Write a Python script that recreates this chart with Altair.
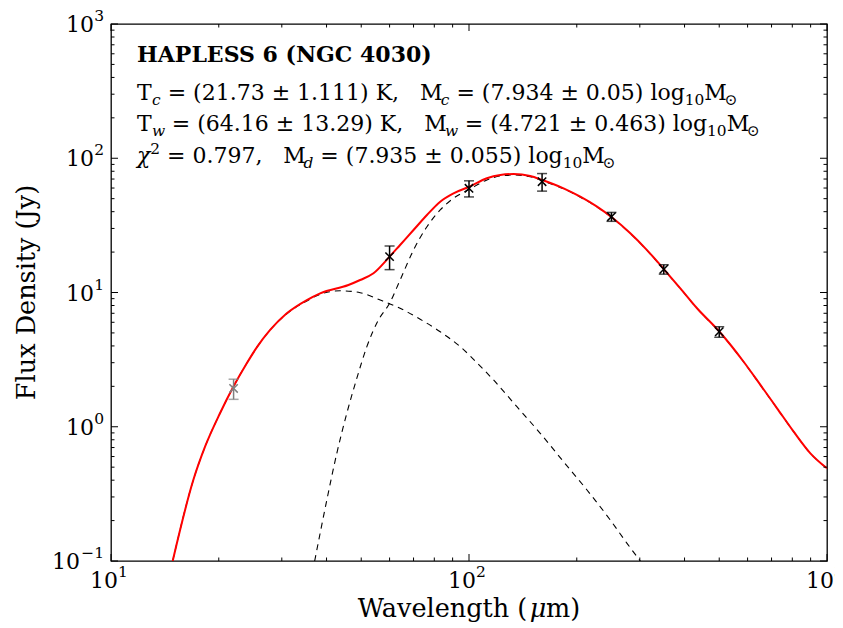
import altair as alt
import pandas as pd

FONT = "DejaVu Serif"
W, H = 716, 537

# ---------------- data ----------------
obs_wavelength = [22, 60, 100, 160, 250, 350, 500]
obs_flux = [1.93, 18.5, 59.7, 66.9, 36.7, 14.9, 5.1]
obs_error = [0.33, 3.7, 8.2, 10.0, 2.8, 1.2, 0.46]
obs_group = ["excluded", "fitted", "fitted", "fitted", "fitted", "fitted", "fitted"]

total_wavelength = [14.87, 16.98, 18.31, 20.16, 22.0, 23.95, 25.54, 27.83, 30.98, 35.24,
                    38.4, 46.04, 49.65, 54.1, 60.0, 64.2, 69.98, 76.3, 83.1, 90.5,
                    100.3, 112.2, 122.3, 133.2, 148.3, 160.2, 183.7, 204.6, 227.8, 250.5,
                    282.2, 314.2, 350.5, 389.3, 433.5, 501, 585, 651.6, 725.4, 807,
                    898.6, 1000]
total_flux = [0.1, 0.401, 0.71, 1.26, 2.0, 2.97, 3.9, 5.26, 7.0, 8.79,
              9.86, 11.37, 12.39, 13.9, 18.48, 22.6, 29.2, 37.8, 47.5, 54.8,
              61.4, 70.9, 75.0, 76.3, 73.8, 68.9, 59.7, 51.7, 43.6, 36.3,
              27.6, 20.7, 14.89, 10.75, 7.63, 5.1, 3.05, 2.05, 1.372, 0.919,
              0.634, 0.49]

warm_wavelength = [14.87, 16.98, 18.31, 20.16, 22.0, 23.95, 25.54, 27.83, 30.98, 35.24,
                   38.4, 43.65, 49.65, 56.5, 64.2, 73.06, 83.1, 94.5, 107.5, 117.1,
                   136.1, 158.1, 183.7, 213.6, 248.1, 276.3, 301]
warm_flux = [0.1, 0.401, 0.71, 1.26, 2.0, 2.97, 3.9, 5.25, 6.95, 8.65,
             9.7, 10.3, 9.97, 8.79, 7.63, 6.32, 5.1, 3.95, 2.83, 2.23,
             1.41, 0.894, 0.549, 0.338, 0.202, 0.1354, 0.1]

cold_wavelength = [37.06, 40.08, 42.73, 45.57, 48.61, 51.84, 55.85, 60.0, 64.2, 69.98,
                   76.3, 83.1, 90.5, 100.3, 112.2, 122.3, 133.2, 148.3, 160.2, 183.7,
                   204.6, 227.8, 250.5, 282.2, 314.2, 350.5, 389.3, 433.5, 501, 585,
                   651.6, 725.4, 807, 898.6, 1000]
cold_flux = [0.1, 0.285, 0.634, 1.26, 2.30, 3.95, 6.24, 8.31, 12.39, 20.7,
             30.9, 41.2, 50.3, 58.7, 68.9, 73.8, 75.0, 72.8, 68.0, 59.2,
             51.3, 43.3, 36.1, 27.5, 20.6, 14.8, 10.7, 7.6, 5.08, 3.04,
             2.04, 1.37, 0.918, 0.633, 0.49]

x_major = [10, 100, 1000]
x_major_exp = ["1", "2", "3"]
x_minor = [20, 30, 40, 50, 60, 70, 80, 90, 200, 300, 400, 500, 600, 700, 800, 900]
y_major = [0.1, 1, 10, 100, 1000]
y_major_exp = ["\u22121", "0", "1", "2", "3"]
y_minor = [0.2, 0.3, 0.4, 0.5, 0.6, 0.7, 0.8, 0.9, 2, 3, 4, 5, 6, 7, 8, 9,
           20, 30, 40, 50, 60, 70, 80, 90, 200, 300, 400, 500, 600, 700, 800, 900]

title_text = "HAPLESS 6 (NGC 4030)"
x_title = "Wavelength ("
y_title = "Flux Density (Jy)"

# ---------------- scales ----------------
xs = alt.Scale(type="log", domain=[10, 1000], nice=False)
ys = alt.Scale(type="log", domain=[0.1, 1000], nice=False)
one = pd.DataFrame({"a": [0]})


def X(field):
    return alt.X(field, type="quantitative", scale=xs, axis=None)


def Y(field):
    return alt.Y(field, type="quantitative", scale=ys, axis=None)


layers = []

# model curves
warm_df = pd.DataFrame({"wl": warm_wavelength, "flux": warm_flux})
cold_df = pd.DataFrame({"wl": cold_wavelength, "flux": cold_flux})
total_df = pd.DataFrame({"wl": total_wavelength, "flux": total_flux})
for df in (warm_df, cold_df):
    layers.append(alt.Chart(df).mark_line(color="black", strokeWidth=1.1, strokeDash=[6, 5],
                                          interpolate="monotone", clip=True)
                  .encode(x=X("wl"), y=Y("flux")))
layers.append(alt.Chart(total_df).mark_line(color="#ff0000", strokeWidth=2, interpolate="monotone", clip=True)
              .encode(x=X("wl"), y=Y("flux")))

# observations
obs_df = pd.DataFrame({"wl": obs_wavelength, "flux": obs_flux, "group": obs_group,
                       "lo": [f - e for f, e in zip(obs_flux, obs_error)],
                       "hi": [f + e for f, e in zip(obs_flux, obs_error)]})
col = alt.Color("group:N", scale=alt.Scale(domain=["excluded", "fitted"], range=["#808080", "#000000"]),
                legend=None)
layers.append(alt.Chart(obs_df).mark_rule(strokeWidth=1.5).encode(x=X("wl"), y=Y("lo"), y2="hi:Q", color=col))
for f in ("lo", "hi"):
    layers.append(alt.Chart(obs_df).mark_tick(orient="horizontal", size=10, thickness=1.5)
                  .encode(x=X("wl"), y=Y(f), color=col))
layers.append(alt.Chart(obs_df).mark_point(shape="M-1,-1L1,1M-1,1L1,-1", size=70, strokeWidth=1.5,
                                           filled=False, opacity=1)
              .encode(x=X("wl"), y=Y("flux"), color=col))

# inward ticks on all four sides
for vals, L in ((x_major, 7), (x_minor, 3.5)):
    d = pd.DataFrame({"v": vals})
    layers.append(alt.Chart(d).mark_rule(color="black", strokeWidth=1)
                  .encode(x=X("v"), y=alt.value(H), y2=alt.value(H - L)))
    layers.append(alt.Chart(d).mark_rule(color="black", strokeWidth=1)
                  .encode(x=X("v"), y=alt.value(0), y2=alt.value(L)))
for vals, L in ((y_major, 7), (y_minor, 3.5)):
    d = pd.DataFrame({"v": vals})
    layers.append(alt.Chart(d).mark_rule(color="black", strokeWidth=1)
                  .encode(y=Y("v"), x=alt.value(0), x2=alt.value(L)))
    layers.append(alt.Chart(d).mark_rule(color="black", strokeWidth=1)
                  .encode(y=Y("v"), x=alt.value(W), x2=alt.value(W - L)))

# tick labels (10 with superscript exponent)
xl = pd.DataFrame({"v": x_major, "e": x_major_exp})
layers.append(alt.Chart(xl).mark_text(font=FONT, fontSize=22, align="right", baseline="alphabetic", dx=7)
              .encode(x=X("v"), y=alt.value(H + 27), text=alt.value("10")))
layers.append(alt.Chart(xl).mark_text(font=FONT, fontSize=15.5, align="left", baseline="alphabetic", dx=7)
              .encode(x=X("v"), y=alt.value(H + 16), text="e:N"))
yl = pd.DataFrame({"v": y_major, "e": y_major_exp})
layers.append(alt.Chart(yl).mark_text(font=FONT, fontSize=15.5, align="right", baseline="alphabetic", dy=-3)
              .encode(y=Y("v"), x=alt.value(-7), text="e:N"))
yl_pos = yl[yl["v"] >= 1]
yl_neg = yl[yl["v"] < 1]
layers.append(alt.Chart(yl_pos).mark_text(font=FONT, fontSize=22, align="right", baseline="alphabetic", dy=8)
              .encode(y=Y("v"), x=alt.value(-17), text=alt.value("10")))
layers.append(alt.Chart(yl_neg).mark_text(font=FONT, fontSize=22, align="right", baseline="alphabetic", dy=8)
              .encode(y=Y("v"), x=alt.value(-31), text=alt.value("10")))

# ---------------- rich text helper ----------------
NB = "\u00a0"
EM = {" ": .318, NB: .318, ".": .318, ",": .318, "(": .390, ")": .390, "=": .838, "\u00b1": .838,
      "T": .685, "M": .916, "K": .775, "l": .32, "o": .602, "g": .64, "\u2299": .838,
      "W": 1.03, "a": .596, "v": .579, "e": .592, "n": .642, "t": .401, "h": .642, "m": .947,
      "c": .56, "w": .83, "d": .64, "\u03c7": .6, "\u03bc": .64}
for dgt in "0123456789":
    EM[dgt] = .636

MAIN, SUB = 22, 15.4
XT = 25.5
STY = {"rm": (MAIN, "normal", 0), "it": (MAIN, "italic", 0),
       "sub": (SUB, "normal", 5), "subit": (SUB, "italic", 5), "sup": (SUB, "normal", -9),
       "rmX": (XT, "normal", 0), "itX": (XT, "italic", 0)}


def seg_width(text, size):
    return sum(EM.get(ch, 0.6) for ch in text) * size


def chain(segments, x0, y0):
    x = x0
    out = []
    for text, kind in segments:
        size, style, dy = STY[kind]
        stripped = text.lstrip(" ")
        x += seg_width(text[:len(text) - len(stripped)], size)   # leading spaces become an offset
        t = stripped.replace(" ", NB)
        out.append(alt.Chart(one).mark_text(align="left", baseline="alphabetic", font=FONT, fontSize=size,
                                            fontStyle=style, dy=dy, color="black")
                   .encode(x=alt.value(x), y=alt.value(y0), text=alt.value(t)))
        x += seg_width(t, size)
    return out


TX = 26
layers.append(alt.Chart(one).mark_text(align="left", baseline="alphabetic", font=FONT, fontSize=22,
                                       fontWeight="bold", color="black")
              .encode(x=alt.value(TX), y=alt.value(38), text=alt.value(title_text)))
line2 = [("T", "rm"), ("c", "subit"), (" = (21.73 \u00b1 1.111) K,   M", "rm"), ("c", "subit"),
         (" = (7.934 \u00b1 0.05) log", "rm"), ("10", "sub"), ("M", "rm"), ("\u2299", "sub")]
line3 = [("T", "rm"), ("w", "subit"), (" = (64.16 \u00b1 13.29) K,   M", "rm"), ("w", "subit"),
         (" = (4.721 \u00b1 0.463) log", "rm"), ("10", "sub"), ("M", "rm"), ("\u2299", "sub")]
line4 = [("\u03c7", "it"), ("2", "sup"), (" = 0.797,   M", "rm"), ("d", "subit"),
         (" = (7.935 \u00b1 0.055) log", "rm"), ("10", "sub"), ("M", "rm"), ("\u2299", "sub")]
layers += chain(line2, TX, 76)
layers += chain(line3, TX, 107)
layers += chain(line4, TX, 139)

# axis titles
xt_segments = [(x_title, "rmX"), ("\u03bc", "itX"), ("m)", "rmX")]
xt_width = sum(seg_width(t, XT) for t, _ in xt_segments)
layers += chain(xt_segments, W / 2 - xt_width / 2, H + 56)
layers.append(alt.Chart(one).mark_text(align="center", baseline="middle", font=FONT, fontSize=25.5, angle=270,
                                       color="black")
              .encode(x=alt.value(-84), y=alt.value(H / 2), text=alt.value(y_title)))

chart = alt.layer(*layers).properties(
    width=W, height=H,
    autosize=alt.AutoSizeParams(type="none"),
    padding={"left": 103, "top": 16, "right": 8, "bottom": 67},
    background="white",
).configure_view(stroke="black", strokeWidth=1.3)

chart.save("out.html", embed_options={"renderer": "svg", "actions": False})
